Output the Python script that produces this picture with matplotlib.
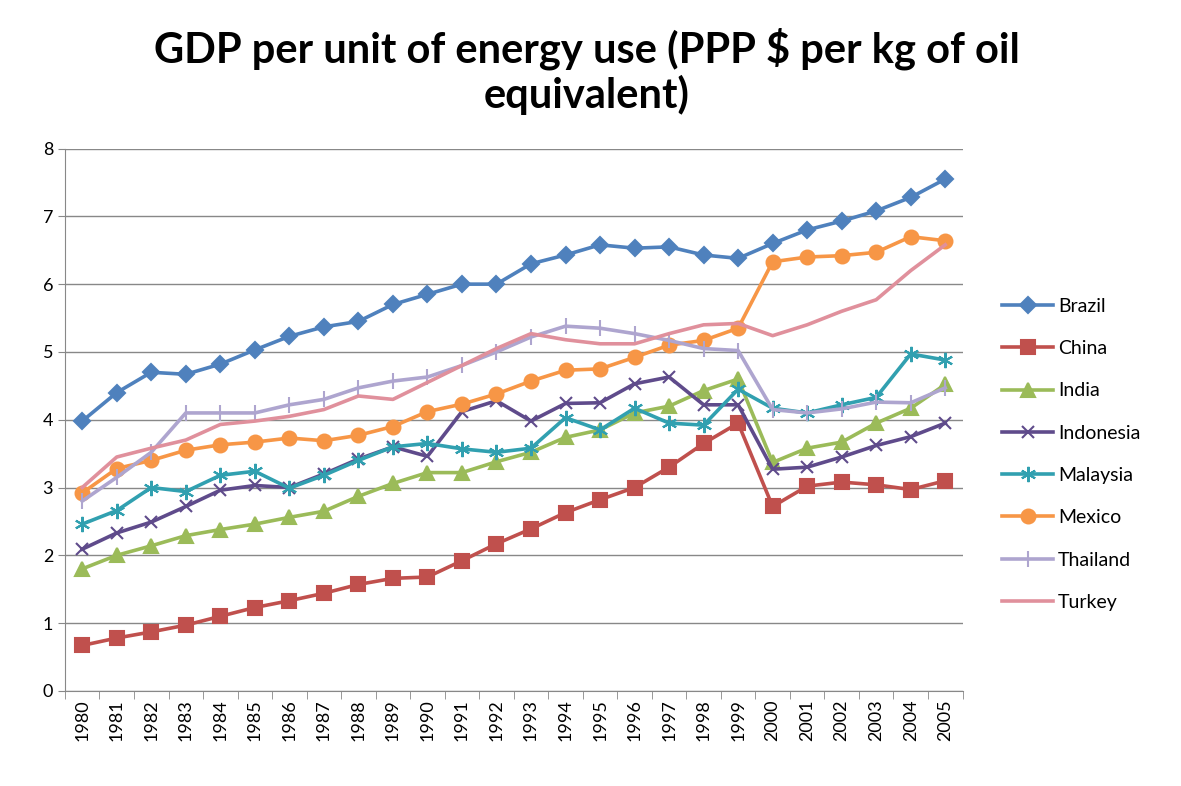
import matplotlib.pyplot as plt

plt.rcParams["font.family"] = ["Lato", "DejaVu Sans"]

YEARS = [str(y) for y in range(1980, 2006)]

BRAZIL = [3.98, 4.40, 4.70, 4.67, 4.82, 5.03, 5.23, 5.37, 5.45, 5.70, 5.85, 6.00, 6.00,
          6.30, 6.43, 6.58, 6.53, 6.55, 6.43, 6.38, 6.60, 6.80, 6.93, 7.08, 7.28, 7.55]
CHINA = [0.67, 0.78, 0.87, 0.97, 1.10, 1.23, 1.33, 1.44, 1.57, 1.66, 1.68, 1.92, 2.17,
         2.39, 2.63, 2.82, 3.00, 3.30, 3.65, 3.95, 2.72, 3.02, 3.08, 3.04, 2.97, 3.10]
INDIA = [1.80, 2.00, 2.14, 2.29, 2.38, 2.46, 2.56, 2.65, 2.87, 3.06, 3.22, 3.22, 3.38,
         3.52, 3.74, 3.85, 4.10, 4.20, 4.43, 4.60, 3.37, 3.58, 3.67, 3.95, 4.17, 4.52]
INDONESIA = [2.09, 2.33, 2.49, 2.72, 2.96, 3.03, 3.00, 3.20, 3.42, 3.60, 3.46, 4.12, 4.28,
             3.98, 4.24, 4.25, 4.53, 4.63, 4.22, 4.22, 3.27, 3.30, 3.45, 3.62, 3.75, 3.95]
MALAYSIA = [2.46, 2.66, 3.00, 2.94, 3.18, 3.24, 2.99, 3.18, 3.40, 3.60, 3.65, 3.57, 3.52,
            3.58, 4.03, 3.85, 4.17, 3.95, 3.92, 4.45, 4.17, 4.10, 4.22, 4.33, 4.97, 4.88]
MEXICO = [2.92, 3.28, 3.40, 3.55, 3.63, 3.67, 3.73, 3.69, 3.77, 3.90, 4.12, 4.23, 4.38,
          4.57, 4.73, 4.75, 4.92, 5.10, 5.17, 5.35, 6.33, 6.40, 6.42, 6.47, 6.70, 6.64]
THAILAND = [2.80, 3.15, 3.52, 4.10, 4.10, 4.10, 4.22, 4.30, 4.47, 4.57, 4.63, 4.80, 5.00,
            5.22, 5.38, 5.35, 5.27, 5.17, 5.05, 5.02, 4.15, 4.10, 4.16, 4.26, 4.25, 4.47]
TURKEY = [3.00, 3.45, 3.58, 3.70, 3.93, 3.98, 4.05, 4.15, 4.35, 4.30, 4.55, 4.80, 5.05,
          5.27, 5.18, 5.12, 5.12, 5.27, 5.40, 5.42, 5.24, 5.40, 5.60, 5.77, 6.20, 6.58]

SERIES = [
    ("Brazil", BRAZIL, "#4F81BD", "D", 8),
    ("China", CHINA, "#C0504D", "s", 10),
    ("India", INDIA, "#9BBB59", "^", 10),
    ("Indonesia", INDONESIA, "#5F4B8B", "x", 9),
    ("Malaysia", MALAYSIA, "#31A0B0", (6, 2, 0), 11),
    ("Mexico", MEXICO, "#F79646", "o", 10),
    ("Thailand", THAILAND, "#AEA5CF", "|", 11),
    ("Turkey", TURKEY, "#E0909C", None, 0),
]


def main():
    fig = plt.figure(figsize=(11.81, 7.86), dpi=100)
    ax = fig.add_axes([0.055, 0.121, 0.760, 0.690])

    x = list(range(len(YEARS)))
    for name, vals, color, marker, ms in SERIES:
        ax.plot(x, vals, color=color, lw=2.6, marker=marker, markersize=ms,
                markeredgewidth=1.5, markeredgecolor=color, label=name)

    ax.set_xlim(-0.5, len(YEARS) - 0.5)
    ax.set_ylim(0, 8)
    ax.set_yticks(range(0, 9))
    ax.set_xticks(x)
    ax.set_xticklabels(YEARS, rotation=90, fontsize=13)
    ax.tick_params(axis="y", labelsize=13, length=5, color="#888888")
    ax.tick_params(axis="x", length=0, pad=6)
    ax.set_xticks([i - 0.5 for i in range(len(YEARS) + 1)], minor=True)
    ax.tick_params(axis="x", which="minor", length=6, color="#888888")

    ax.grid(axis="y", color="#888888", lw=1)
    ax.set_axisbelow(True)
    for s in ["top", "right"]:
        ax.spines[s].set_visible(False)
    ax.spines["left"].set_color("#888888")
    ax.spines["bottom"].set_color("#888888")

    fig.text(0.497, 0.965, "GDP per unit of energy use (PPP \\$ per kg of oil\nequivalent)",
             ha="center", va="top", fontsize=30, fontweight="bold", linespacing=1.15)

    ax.legend(loc="upper left", bbox_to_anchor=(1.025, 0.757), frameon=False,
              fontsize=14, labelspacing=1.3, handlelength=2.6, handletextpad=0.25)

    fig.savefig("out.png", dpi=100)
    plt.close(fig)


if __name__ == "__main__":
    main()
